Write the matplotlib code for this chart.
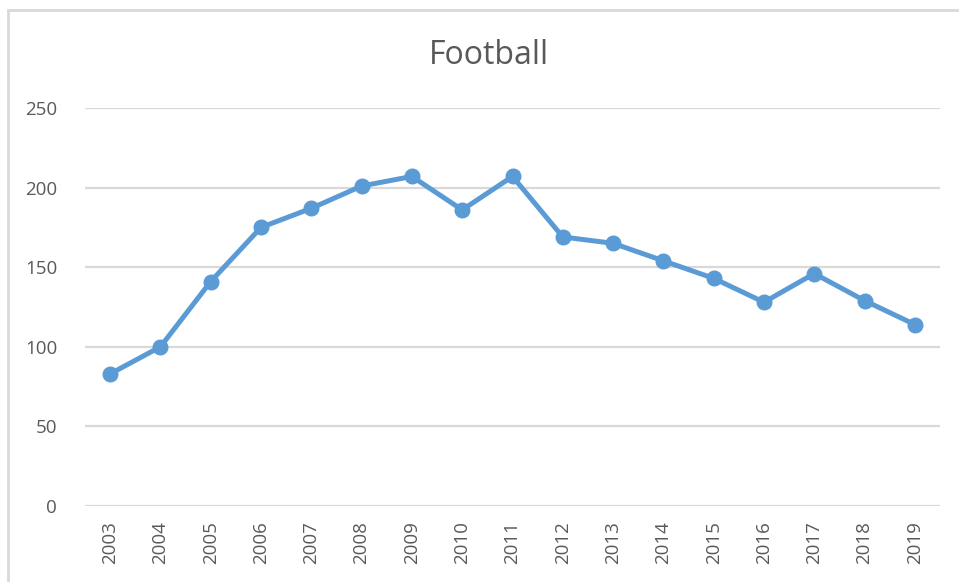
import matplotlib
matplotlib.use("Agg")
from matplotlib import pyplot as plt
from matplotlib.patches import Rectangle

years = list(range(2003, 2020))
values = [83, 100, 141, 175, 187, 201, 207, 186, 207, 169, 165, 154, 143, 128, 146, 129, 114]
yticks = [0, 50, 100, 150, 200, 250]

plt.rcParams['font.family'] = ['Open Sans', 'DejaVu Sans']
gray = "#595959"

fig = plt.figure(figsize=(9.59, 5.82), dpi=100)
ax = fig.add_axes([85 / 959, 1 - 506 / 582, (940 - 85) / 959, (506 - 108) / 582])

# chart frame (light gray border)
fig.patches.append(Rectangle((8 / 959, -0.05), 1.0, 1 - 10 / 582 + 0.05,
                             transform=fig.transFigure, fill=False,
                             edgecolor="#D9D9D9", linewidth=2))

x = list(range(len(years)))
ax.plot(x, values, color="#5B9BD5", linewidth=3.6, marker="o", markersize=10.5,
        solid_capstyle="round", solid_joinstyle="round", zorder=3)

ax.set_xlim(-0.5, len(years) - 0.5)
ax.set_ylim(0, 250)
ax.set_yticks(yticks)
ax.set_xticks(x)
ax.set_xticklabels([str(y) for y in years], rotation=90)
ax.grid(axis="y", color="#D9D9D9", linewidth=1.6)
ax.set_axisbelow(True)
for s in ax.spines.values():
    s.set_visible(False)
ax.tick_params(length=0, labelcolor=gray, labelsize=13.5)
ax.tick_params(axis="y", pad=20)
ax.tick_params(axis="x", pad=11)

fig.text(489 / 959, 1 - 55 / 582, "Football", ha="center", va="center",
         fontsize=23, color=gray)

fig.savefig("out.png", dpi=100)
